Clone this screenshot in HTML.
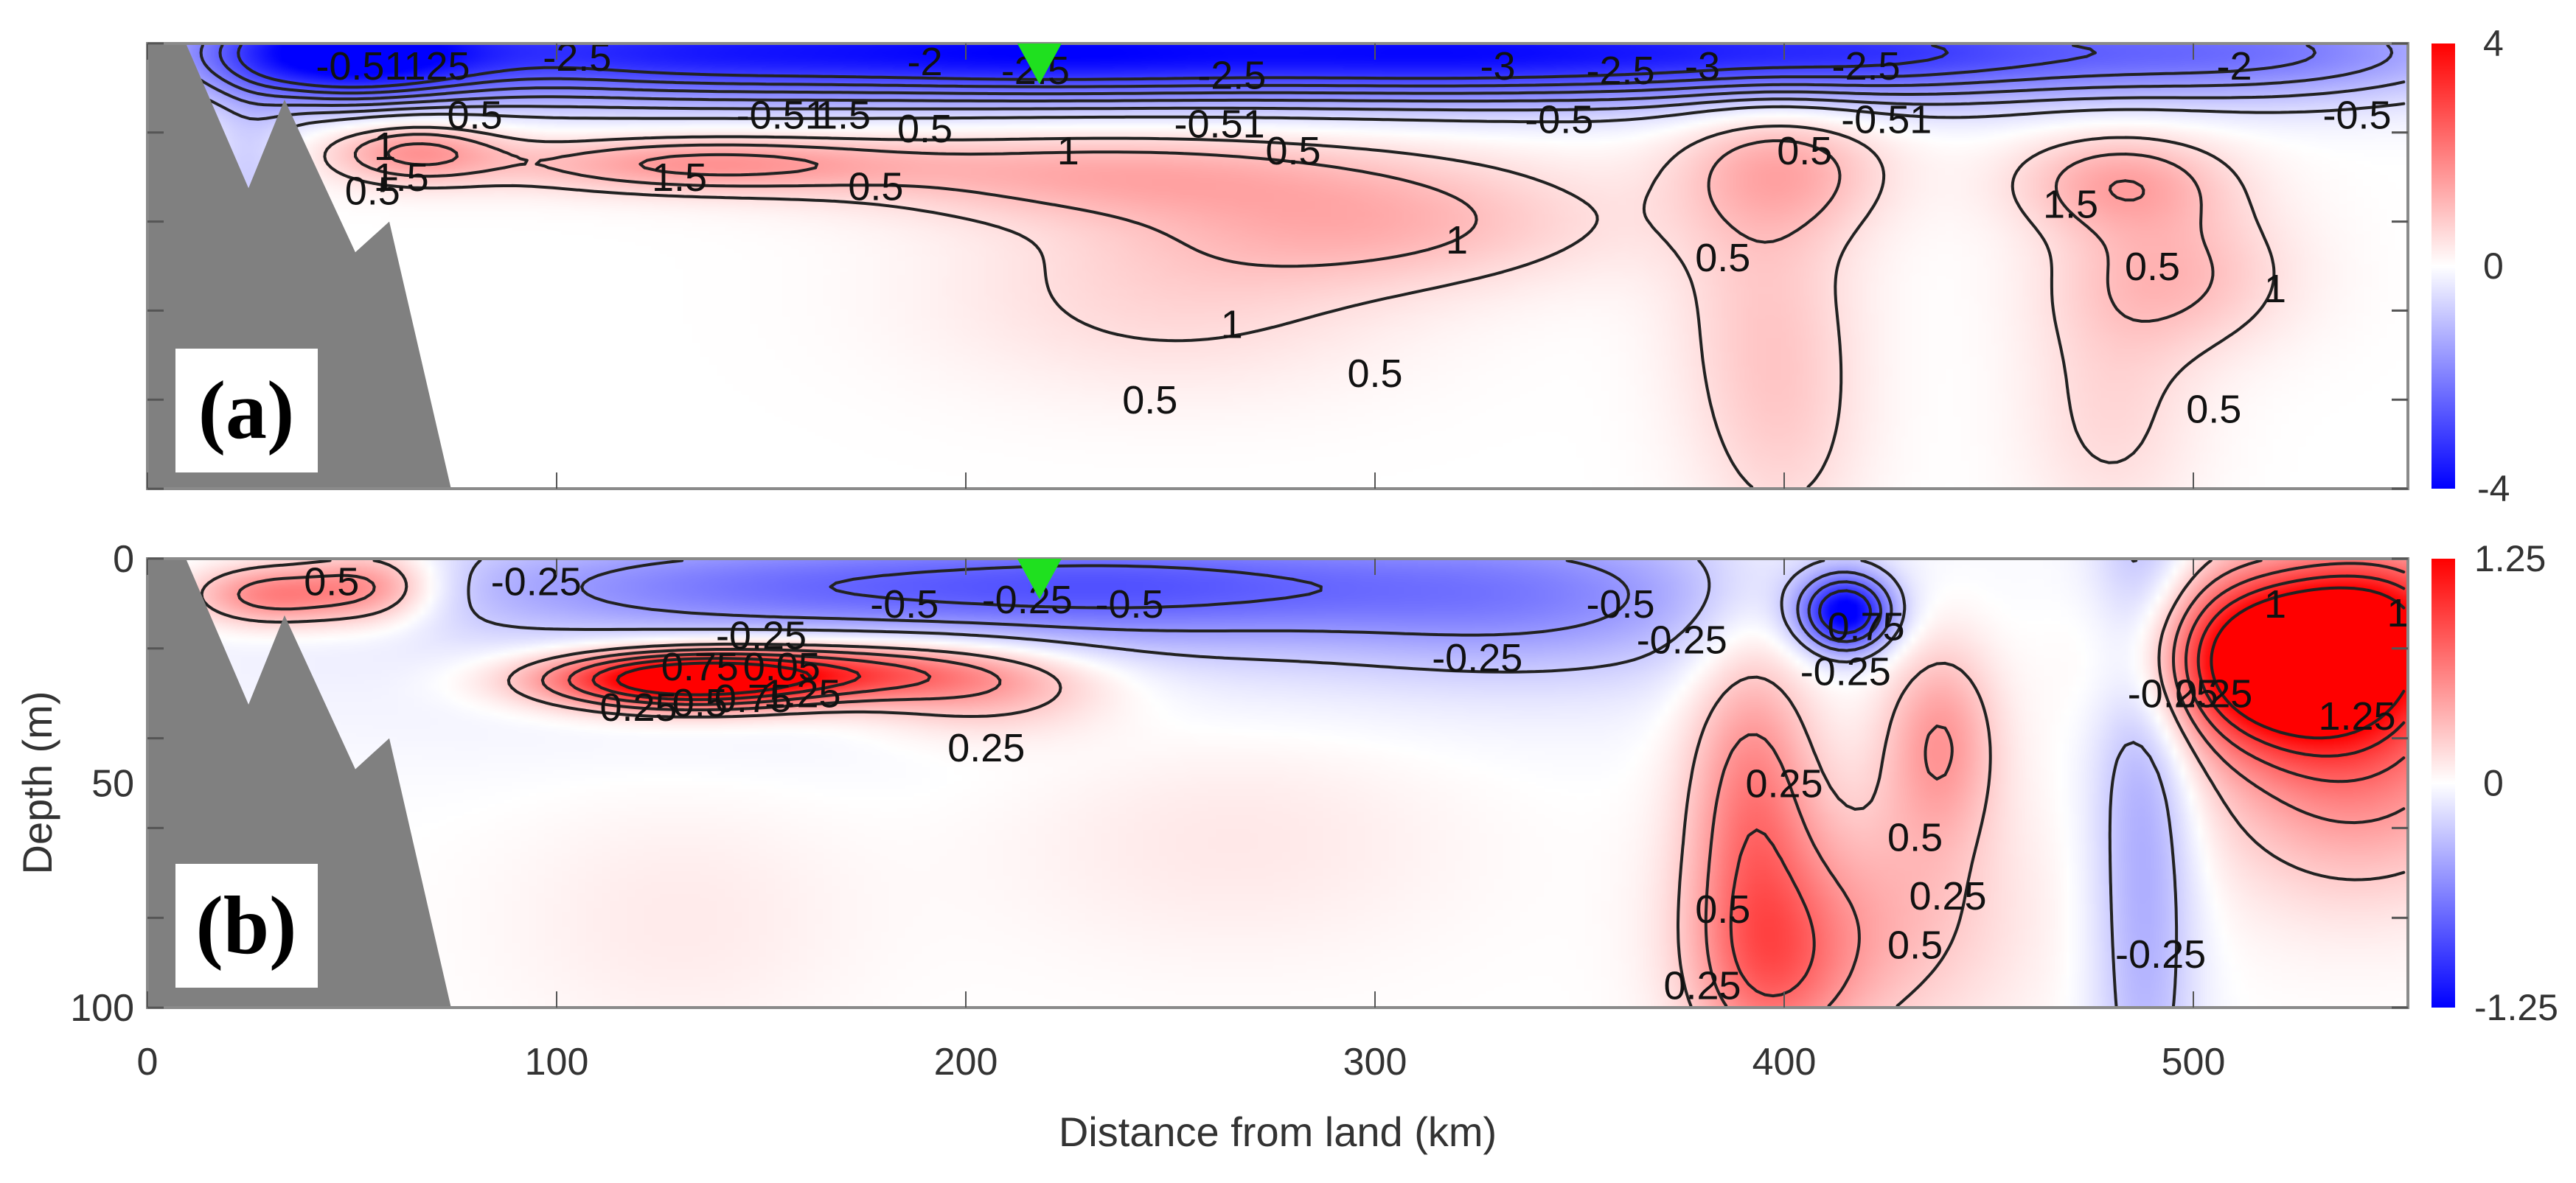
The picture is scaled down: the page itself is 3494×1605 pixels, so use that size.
<!DOCTYPE html>
<html><head><meta charset="utf-8">
<style>
html,body{margin:0;padding:0;background:#fff;}
#wrap{position:relative;width:3494px;height:1605px;overflow:hidden;font-family:"Liberation Sans",sans-serif;}
canvas{position:absolute;}
svg{position:absolute;left:0;top:0;}
</style></head>
<body>
<div id="wrap">
<canvas id="ca" width="3066" height="604" style="left:200px;top:59px"></canvas>
<canvas id="cb" width="3066" height="609" style="left:200px;top:758px"></canvas>
<svg id="svg" width="3494" height="1605"></svg>
</div>
<script>
// ---------- data ----------
const xTicks=[0,100,200,300,400,500];
const yTicksB=[0,50,100];
const levelsA=[-3,-2.5,-2,-1.5,-1,-0.5,0.5,1,1.5];
const levelsB=[-1,-0.75,-0.5,-0.25,0.25,0.5,0.75,1,1.25];
// blobs: [x km, depth, amplitude, sigma x km, sigma depth]
const blobsA=[
[45,2,-3.8,25,8],[120,2,-3.0,50,8],[220,2,-3.2,50,8],[320,2,-3.1,50,8],[420,2,-2.8,50,8],[520,2,-1.8,40,8],
[65,24,1.6,15,5],[135,27,1.6,35,4.5],[230,29,1.15,45,7],[300,40,1.1,40,10],[250,57,0.6,40,15],
[400,28,1.05,18,10],[395,55,0.7,16,25],[400,88,0.5,14,20],[482,31,1.3,18,8],[495,52,1.05,20,12],[480,82,0.6,15,20],[25,30,-0.8,7,12]];
const blobsB=[
[150,6,-0.5,60,8],[250,6,-0.55,50,9],[340,8,-0.45,40,12],[200,15,-0.15,140,20],
[130,27,1.5,24,4.5],[170,25,0.8,30,5],[205,30,0.35,22,7],
[30,8,0.7,14,5],[55,6,0.6,12,6],
[415,12,-1.25,8,6],
[392,55,0.6,11,28],[398,92,0.45,14,15],[438,40,0.5,10,16],[420,80,0.35,25,20],
[488,50,-0.45,9,70],[265,60,0.12,40,20],[130,80,0.1,30,20],
[525,22,1.9,22,13],[540,45,0.6,25,20],[548,10,0.5,15,10]];
const landX=[0,9.4,24.7,33.5,50.8,59.1,74.2,0];
const landZ=[0,0,32.5,12.6,46.9,40,100,100];
const labelsA=[[60,5,"-0.51125"],[105,3,"-2.5"],[190,4,"-2"],[217,6,"-2.5"],[265,7,"-2.5"],[330,5,"-3"],[360,6,"-2.5"],[380,5,"-3"],[420,5,"-2.5"],[510,5,"-2"],
[80,16,"0.5"],[155,16,"-0.51"],[170,16,"1.5"],[190,19,"0.5"],[58,23,"1"],[62,30,"1.5"],[55,33,"0.5"],[130,30,"1.5"],[178,32,"0.5"],[225,24,"1"],[262,18,"-0.51"],[280,24,"0.5"],[320,44,"1"],[265,63,"1"],[245,80,"0.5"],[300,74,"0.5"],[385,48,"0.5"],[405,24,"0.5"],[345,17,"-0.5"],[425,17,"-0.51"],[470,36,"1.5"],[490,50,"0.5"],[520,55,"1"],[505,82,"0.5"],[540,16,"-0.5"]];
const labelsB=[[95,5,"-0.25"],[150,17,"-0.25"],[185,10,"-0.5"],[215,9,"-0.25"],[240,10,"-0.5"],[325,22,"-0.25"],[360,10,"-0.5"],[375,18,"-0.25"],[135,24,"0.75"],[155,24,"0.05"],[120,33,"0.25"],[135,32,"0.5"],[148,31,"0.75"],[160,30,"1.25"],[205,42,"0.25"],[420,15,"0.75"],[415,25,"-0.25"],[400,50,"0.25"],[432,62,"0.5"],[440,75,"0.25"],[385,78,"0.5"],[380,95,"0.25"],[432,86,"0.5"],[495,30,"-0.25"],[505,30,"0.25"],[492,88,"-0.25"],[540,35,"1.25"],[550,12,"1"],[520,10,"1"],[45,5,"0.5"]];
// ---------- geometry ----------
const X0=200,PW=3066,KM=5.55;
const panels=[{top:59,h:604,blobs:blobsA,lev:levelsA,vmax:4,canvas:'ca',labels:labelsA,name:'a'},
              {top:758,h:609,blobs:blobsB,lev:levelsB,vmax:1.25,canvas:'cb',labels:labelsB,name:'b'}];
const xs=k=>X0+k*KM;
function field(bl,x,z){let s=0;for(const b of bl){const dx=(x-b[0])/b[3],dz=(z-b[1])/b[4];s+=b[2]*Math.exp(-0.5*(dx*dx+dz*dz));}return s;}
function color(v,vm){let t=Math.max(-1,Math.min(1,v/vm));
 if(t>=0)return [255,Math.round(255*(1-t)),Math.round(255*(1-t))];
 return [Math.round(255*(1+t)),Math.round(255*(1+t)),255];}
const NS='http://www.w3.org/2000/svg';
const svg=document.getElementById('svg');
function mk(tag,attrs,parent){const e=document.createElementNS(NS,tag);for(const k in attrs)e.setAttribute(k,attrs[k]);(parent||svg).appendChild(e);return e;}
panels.forEach(p=>{
 const ys=z=>p.top+z/100*p.h;
 const nx=276,nz=120;
 const off=document.createElement('canvas');off.width=nx;off.height=nz;
 const octx=off.getContext('2d');const img=octx.createImageData(nx,nz);
 const grid=[];
 for(let j=0;j<nz;j++){grid.push([]);for(let i=0;i<nx;i++){
  const x=(i+0.5)/nx*552.4,z=(j+0.5)/nz*100;const v=field(p.blobs,x,z);grid[j].push(v);
  const c=color(v,p.vmax);const k=(j*nx+i)*4;img.data[k]=c[0];img.data[k+1]=c[1];img.data[k+2]=c[2];img.data[k+3]=255;}}
 octx.putImageData(img,0,0);
 const ctx=document.getElementById(p.canvas).getContext('2d');
 ctx.imageSmoothingEnabled=true;ctx.drawImage(off,0,0,PW,p.h);
 const g=mk('g',{'clip-path':'url(#clip'+p.name+')'});
 
 
 const cp=mk('clipPath',{id:'clip'+p.name});mk('rect',{x:X0,y:p.top,width:PW,height:p.h},cp);
 const gx=i=>xs((i+0.5)/nx*552.4), gz=j=>ys((j+0.5)/nz*100);
 p.lev.forEach(L=>{let d='';
  for(let j=0;j<nz-1;j++)for(let i=0;i<nx-1;i++){
   const a=grid[j][i],b=grid[j][i+1],c=grid[j+1][i+1],e=grid[j+1][i];
   const pts=[];
   const edge=(v1,v2,x1,y1,x2,y2)=>{if((v1-L)*(v2-L)<0){const t=(L-v1)/(v2-v1);pts.push([x1+t*(x2-x1),y1+t*(y2-y1)]);}};
   edge(a,b,gx(i),gz(j),gx(i+1),gz(j));edge(b,c,gx(i+1),gz(j),gx(i+1),gz(j+1));
   edge(c,e,gx(i+1),gz(j+1),gx(i),gz(j+1));edge(e,a,gx(i),gz(j+1),gx(i),gz(j));
   for(let k=0;k+1<pts.length;k+=2)d+='M'+pts[k][0].toFixed(1)+' '+pts[k][1].toFixed(1)+'L'+pts[k+1][0].toFixed(1)+' '+pts[k+1][1].toFixed(1);
  }
  const path=mk('path',{d:d,stroke:'#222',fill:'none','stroke-width':4,'stroke-linecap':'round'},g);
  
  
 });
 p.labels.forEach(l=>{const t=mk('text',{x:xs(l[0]),y:ys(l[1])+19,'font-size':54,fill:'#111','text-anchor':'middle'},g);t.textContent=l[2];
  
  });
 let ld='';landX.forEach((x,k)=>{ld+=(k?'L':'M')+xs(x)+' '+ys(landZ[k]);});
 const land=mk('path',{d:ld+'Z',fill:'#808080'});
 
 
 const fr=mk('rect',{x:X0,y:p.top,width:PW,height:p.h,fill:'none',stroke:'#8a8a8a','stroke-width':4});
 
 
 xTicks.forEach(v=>{mk('line',{x1:xs(v),x2:xs(v),y1:p.top+p.h,y2:p.top+p.h-22,stroke:'#555','stroke-width':2});
  mk('line',{x1:xs(v),x2:xs(v),y1:p.top,y2:p.top+22,stroke:'#555','stroke-width':2});});
 [0,20,40,60,80,100].forEach(v=>{mk('line',{x1:X0,x2:X0+22,y1:ys(v),y2:ys(v),stroke:'#555','stroke-width':3});
  mk('line',{x1:X0+PW,x2:X0+PW-22,y1:ys(v),y2:ys(v),stroke:'#555','stroke-width':3});});
 const tri=mk('polygon',{points:(xs(218)-30)+','+p.top+' '+(xs(218)+30)+','+p.top+' '+xs(218)+','+(p.top+55),fill:'#1fe01f'});
 
 
 const bx=mk('rect',{x:238,y:p.top+414,width:193,height:168,fill:'#fff'});
 
 
 const pl=mk('text',{x:334,y:p.top+535,'font-size':112,'font-weight':'bold','font-family':'Liberation Serif, serif','text-anchor':'middle',fill:'#000'});
 pl.textContent='('+p.name+')';
 
 
 const gid='grad'+p.name;const defs=mk('defs',{});
 const lg=mk('linearGradient',{id:gid,x1:0,y1:0,x2:0,y2:1},defs);
 mk('stop',{offset:'0','stop-color':'#ff0000'},lg);mk('stop',{offset:'0.5','stop-color':'#ffffff'},lg);mk('stop',{offset:'1','stop-color':'#0000ff'},lg);
 const cb=mk('rect',{x:3298,y:p.top,width:32,height:p.h,fill:'url(#'+gid+')'});
 
 
 const cbl=p.name==='a'?['4','0','-4']:['1.25','0','-1.25'];
 const cbx=p.name==='a'?[3368,3368,3360]:[3356,3368,3356];
 cbl.forEach((s,k)=>{const t=mk('text',{x:cbx[k],y:p.top+k*p.h/2+17,'font-size':50,fill:'#333'});t.textContent=s;
  
  });
});
xTicks.forEach(v=>{const t=mk('text',{x:xs(v),y:1458,'font-size':52,fill:'#333','text-anchor':'middle'});t.textContent=v;
 
 });
yTicksB.forEach(v=>{const t=mk('text',{x:182,y:758+v/100*609+18,'font-size':52,fill:'#333','text-anchor':'end'});t.textContent=v;
 
 });
const xt=mk('text',{x:1733,y:1555,'font-size':56,fill:'#333','text-anchor':'middle'});xt.textContent='Distance from land (km)';


const yt=mk('text',{x:0,y:0,'font-size':56,fill:'#333','text-anchor':'middle',transform:'translate(70,1062) rotate(-90)'});yt.textContent='Depth (m)';


</script>
</body></html>
